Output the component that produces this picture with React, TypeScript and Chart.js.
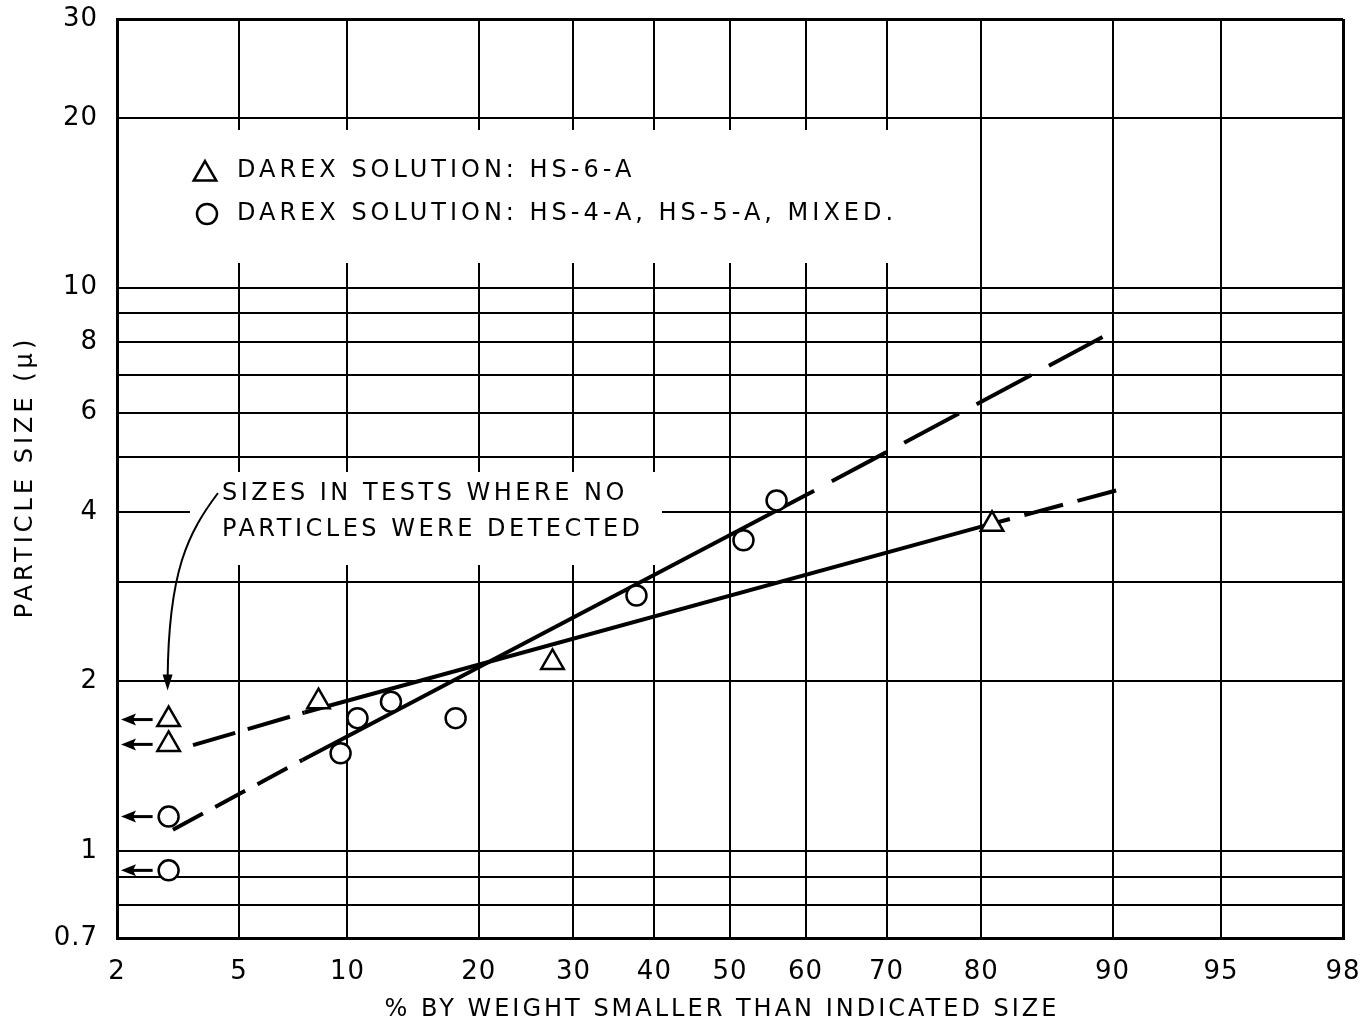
import { useEffect, useRef } from 'react';
import { Chart, Scale, registerables } from 'chart.js';

Chart.register(...registerables);

// Probability-paper percent axis and log particle-size axis
const PERCENT_TICKS = [2, 5, 10, 20, 30, 40, 50, 60, 70, 80, 90, 95, 98];
const SIZE_GRID = [0.7, 0.8, 0.9, 1, 2, 3, 4, 5, 6, 7, 8, 9, 10, 20, 30];
const SIZE_LABELS = [0.7, 1, 2, 4, 6, 8, 10, 20, 30];

// Darex solution HS-6-A (triangles)
const HS6_PERCENT = [3, 3, 8.4, 27.6, 81];
const HS6_SIZE = [1.71, 1.545, 1.84, 2.16, 3.8];
const HS6_NONE_DETECTED = [true, true, false, false, false];

// Darex solutions HS-4-A, HS-5-A, mixed (circles)
const HS45_PERCENT = [3, 3, 9.6, 10.6, 12.8, 17.9, 37.7, 51.8, 56.2];
const HS45_SIZE = [1.15, 0.923, 1.49, 1.72, 1.84, 1.72, 2.84, 3.56, 4.19];
const HS45_NONE_DETECTED = [true, true, false, false, false, false, false, false, false];

// Fitted size distributions: dashed extrapolation, solid fit, dashed extrapolation
const HS6_FIT_PERCENT = [3.6, 7.7, 80.6, 90.4];
const HS6_FIT_SIZE = [1.54, 1.76, 3.79, 4.38];
const HS45_FIT_PERCENT = [3.1, 7.6, 61.1, 89.4];
const HS45_FIT_SIZE = [1.09, 1.45, 4.36, 8.17];

const FONT = '"DejaVu Sans", "Liberation Sans", sans-serif';

// Inverse of the standard normal distribution (Acklam's rational approximation)
function probit(p: number): number {
  const a = [-39.69683028665376, 220.9460984245205, -275.9285104469687, 138.357751867269, -30.66479806614716, 2.506628277459239];
  const b = [-54.47609879822406, 161.5858368580409, -155.6989798598866, 66.80131188771972, -13.28068155288572];
  const c = [-0.007784894002430293, -0.3223964580411365, -2.400758277161838, -2.549732539343734, 4.374664141464968, 2.938163982698783];
  const d = [0.007784695709041462, 0.3224671290700398, 2.445134137142996, 3.754408661907416];
  const lo = 0.02425;
  if (p < lo) {
    const q = Math.sqrt(-2 * Math.log(p));
    return (((((c[0] * q + c[1]) * q + c[2]) * q + c[3]) * q + c[4]) * q + c[5]) /
      ((((d[0] * q + d[1]) * q + d[2]) * q + d[3]) * q + 1);
  }
  if (p > 1 - lo) {
    const q = Math.sqrt(-2 * Math.log(1 - p));
    return -(((((c[0] * q + c[1]) * q + c[2]) * q + c[3]) * q + c[4]) * q + c[5]) /
      ((((d[0] * q + d[1]) * q + d[2]) * q + d[3]) * q + 1);
  }
  const q = p - 0.5;
  const r = q * q;
  return ((((((a[0] * r + a[1]) * r + a[2]) * r + a[3]) * r + a[4]) * r + a[5]) * q) /
    (((((b[0] * r + b[1]) * r + b[2]) * r + b[3]) * r + b[4]) * r + 1);
}

function percentFromZ(z: number): number {
  let lo = 1e-6;
  let hi = 1 - 1e-6;
  for (let i = 0; i < 60; i++) {
    const mid = (lo + hi) / 2;
    if (probit(mid) < z) lo = mid; else hi = mid;
  }
  return ((lo + hi) / 2) * 100;
}

// Normal-probability axis: values are percentages, spaced by their normal quantile
class ProbabilityScale extends Scale {
  static id = 'probability';
  static defaults = {};
  _zStart = 0;
  _zRange = 1;

  determineDataLimits() {
    const opts: any = this.options;
    this.min = opts.min;
    this.max = opts.max;
  }

  buildTicks() {
    return PERCENT_TICKS.map((v) => ({ value: v }));
  }

  configure() {
    super.configure();
    this._zStart = probit(this.min / 100);
    this._zRange = probit(this.max / 100) - this._zStart;
  }

  getLabelForValue(value: number) {
    return String(value);
  }

  getPixelForValue(value: number) {
    return this.getPixelForDecimal((probit(value / 100) - this._zStart) / this._zRange);
  }

  getValueForPixel(pixel: number) {
    return percentFromZ(this._zStart + this.getDecimalForPixel(pixel) * this._zRange);
  }
}

Chart.register(ProbabilityScale as any);

function toPoints(xs: number[], ys: number[]) {
  return xs.map((x, i) => ({ x, y: ys[i] }));
}

function trianglePath(ctx: CanvasRenderingContext2D, x: number, y: number, r: number) {
  ctx.beginPath();
  for (let k = 0; k < 3; k++) {
    const ang = (k * 2 * Math.PI) / 3;
    const px = x + Math.sin(ang) * r;
    const py = y - Math.cos(ang) * r;
    if (k === 0) ctx.moveTo(px, py); else ctx.lineTo(px, py);
  }
  ctx.closePath();
}

function leftArrow(ctx: CanvasRenderingContext2D, tail: number, tip: number, y: number) {
  ctx.beginPath();
  ctx.moveTo(tail, y);
  ctx.lineTo(tip + 10, y);
  ctx.stroke();
  ctx.beginPath();
  ctx.moveTo(tip, y);
  ctx.lineTo(tip + 15, y - 6);
  ctx.lineTo(tip + 12, y);
  ctx.lineTo(tip + 15, y + 6);
  ctx.closePath();
  ctx.fill();
}

const decorPlugin = {
  id: 'decor',
  beforeDraw(chart: any) {
    chart.ctx.letterSpacing = '1px';
  },
  beforeDatasetsDraw(chart: any) {
    const { ctx, chartArea: a } = chart;
    ctx.save();
    ctx.fillStyle = '#fff';
    // clear the grid behind the key and the note
    ctx.fillRect(a.left + 64, a.top + 111, 727, 133);
    ctx.fillRect(a.left + 73, a.top + 453, 472, 93);
    ctx.restore();
  },
  afterDatasetsDraw(chart: any) {
    const { ctx, chartArea: a } = chart;
    const xs = chart.scales.x;
    const ys = chart.scales.y;
    ctx.save();
    ctx.fillStyle = '#000';
    ctx.strokeStyle = '#000';
    ctx.textBaseline = 'middle';
    ctx.textAlign = 'left';
    ctx.font = `24px ${FONT}`;

    // key
    ctx.letterSpacing = '4px';
    ctx.lineWidth = 2.5;
    trianglePath(ctx, a.left + 88, a.top + 155, 13);
    ctx.stroke();
    ctx.beginPath();
    ctx.arc(a.left + 90, a.top + 195, 10, 0, Math.PI * 2);
    ctx.stroke();
    ctx.fillText('DAREX SOLUTION: HS-6-A', a.left + 120, a.top + 152);
    ctx.fillText('DAREX SOLUTION: HS-4-A, HS-5-A, MIXED.', a.left + 120, a.top + 195);

    // note on tests without detected particles
    ctx.letterSpacing = '3.5px';
    ctx.fillText('SIZES IN TESTS WHERE NO', a.left + 105, a.top + 475);
    ctx.fillText('PARTICLES WERE DETECTED', a.left + 105, a.top + 511);

    const undetected: { pct: number; size: number }[] = [];
    HS6_PERCENT.forEach((p, i) => { if (HS6_NONE_DETECTED[i]) undetected.push({ pct: p, size: HS6_SIZE[i] }); });
    HS45_PERCENT.forEach((p, i) => { if (HS45_NONE_DETECTED[i]) undetected.push({ pct: p, size: HS45_SIZE[i] }); });

    const top = undetected.reduce((m, u) => (u.size > m.size ? u : m), undetected[0]);
    const tipX = xs.getPixelForValue(top.pct) - 1;
    const tipY = ys.getPixelForValue(top.size) - 29;
    const sx = a.left + 101;
    const sy = a.top + 474;
    ctx.lineWidth = 2;
    ctx.beginPath();
    ctx.moveTo(sx, sy);
    ctx.bezierCurveTo(sx - 30, sy + 40, tipX + 1, tipY - 120, tipX, tipY - 12);
    ctx.stroke();
    ctx.beginPath();
    ctx.moveTo(tipX, tipY);
    ctx.lineTo(tipX - 5, tipY - 16);
    ctx.lineTo(tipX + 5, tipY - 16);
    ctx.closePath();
    ctx.fill();

    ctx.lineWidth = 3;
    undetected.forEach((u) => {
      const yy = ys.getPixelForValue(u.size);
      leftArrow(ctx, xs.getPixelForValue(u.pct) - 16, a.left + 4, yy);
    });

    // axis titles
    ctx.font = `24px ${FONT}`;
    ctx.letterSpacing = '3px';
    ctx.textAlign = 'center';
    ctx.fillText('% BY WEIGHT SMALLER THAN INDICATED SIZE', 722, 1010);
    ctx.translate(26, 477);
    ctx.rotate(-Math.PI / 2);
    ctx.letterSpacing = '4px';
    ctx.fillText('PARTICLE SIZE (\u03bc)', 0, 0);
    ctx.restore();
  },
};

export default function App() {
  const canvasRef = useRef<HTMLCanvasElement>(null);

  useEffect(() => {
    const canvas = canvasRef.current;
    if (!canvas) return;

    const edgeX = (c: any) => (c.index === 0 || c.index === PERCENT_TICKS.length - 1 ? 3 : 2);
    const edgeY = (c: any) => (c.index === 0 || c.index === SIZE_GRID.length - 1 ? 3 : 2);

    const chart = new Chart(canvas, {
      type: 'line',
      data: {
        datasets: [
          {
            label: 'DAREX SOLUTION: HS-6-A',
            data: toPoints(HS6_PERCENT, HS6_SIZE),
            showLine: false,
            pointStyle: 'triangle',
            pointRadius: 13,
            pointBorderWidth: 2.5,
            pointBorderColor: '#000',
            pointBackgroundColor: '#fff',
          },
          {
            label: 'DAREX SOLUTION: HS-4-A, HS-5-A, MIXED.',
            data: toPoints(HS45_PERCENT, HS45_SIZE),
            showLine: false,
            pointStyle: 'circle',
            pointRadius: 10,
            pointBorderWidth: 2.5,
            pointBorderColor: '#000',
            pointBackgroundColor: '#fff',
          },
          {
            label: 'HS-6-A fit',
            data: toPoints(HS6_FIT_PERCENT, HS6_FIT_SIZE),
            borderColor: '#000',
            borderWidth: 4,
            pointRadius: 0,
            tension: 0,
            segment: {
              borderDash: (c: any) => (c.p0DataIndex === 0 ? [44, 13] : c.p0DataIndex === 1 ? [] : [40, 15]),
              borderDashOffset: (c: any) => (c.p0DataIndex === 2 ? 17 : 0),
            },
          },
          {
            label: 'HS-4-A, HS-5-A fit',
            data: toPoints(HS45_FIT_PERCENT, HS45_FIT_SIZE),
            borderColor: '#000',
            borderWidth: 4,
            pointRadius: 0,
            tension: 0,
            segment: {
              borderDash: (c: any) => (c.p0DataIndex === 0 ? [34, 14] : c.p0DataIndex === 1 ? [] : [62, 20]),
              borderDashOffset: (c: any) => (c.p0DataIndex === 2 ? 62 : 0),
            },
          },
        ],
      },
      options: {
        responsive: false,
        animation: false,
        devicePixelRatio: 1,
        events: [],
        layout: { padding: { top: 19, right: 19, left: 0, bottom: 0 } },
        plugins: {
          legend: { display: false },
          tooltip: { enabled: false },
        },
        scales: {
          x: {
            type: 'probability' as any,
            min: 2,
            max: 98,
            afterFit: (s: any) => {
              s.height = 86;
              s.paddingLeft = 0;
              s.paddingRight = 0;
            },
            grid: { color: '#000', lineWidth: edgeX, drawTicks: false },
            border: { display: true, color: '#000', width: 3 },
            ticks: {
              autoSkip: false,
              maxRotation: 0,
              padding: 19,
              color: '#000',
              font: { family: FONT, size: 26 },
              callback: (v: any) => String(v),
            },
          },
          y: {
            type: 'logarithmic',
            min: 0.7,
            max: 30,
            afterBuildTicks: (s: any) => {
              s.ticks = SIZE_GRID.map((v) => ({ value: v }));
            },
            afterFit: (s: any) => {
              s.width = 117;
              s.paddingTop = 0;
              s.paddingBottom = 0;
            },
            grid: { color: '#000', lineWidth: edgeY, drawTicks: false },
            border: { display: true, color: '#000', width: 3 },
            ticks: {
              autoSkip: false,
              padding: 19,
              color: '#000',
              font: { family: FONT, size: 26 },
              callback: (v: any) => (SIZE_LABELS.includes(Number(v)) ? String(v) : ''),
            },
          },
        },
      },
      plugins: [decorPlugin],
    } as any);

    return () => chart.destroy();
  }, []);

  return (
    <div style={{ position: 'fixed', left: 0, top: 0, width: 1362, height: 1024, background: '#fff' }}>
      <canvas ref={canvasRef} width={1362} height={1024} style={{ display: 'block', width: 1362, height: 1024 }} />
    </div>
  );
}
